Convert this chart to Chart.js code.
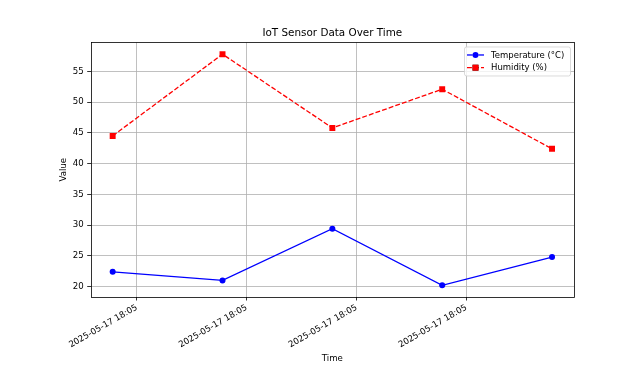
<!DOCTYPE html>
<html>
<head>
<meta charset="utf-8">
<script src="https://cdn.jsdelivr.net/npm/chart.js@4/dist/chart.umd.min.js"></script>
<style>
  html, body { margin: 0; padding: 0; background: #fff; }
  canvas { display: block; }
</style>
</head>
<body>
<canvas id="chart" width="635" height="372"></canvas>
<script>
// readings, seconds after 18:05:00
const sampleSeconds = [7.8, 17.8, 27.8, 37.8, 47.8];
const temperature = [22.4, 21.0, 29.4, 20.2, 24.8];
const humidity = [44.5, 57.8, 45.8, 52.1, 42.4];

const tickSeconds = [10, 20, 30, 40];
const tickLabels = ["2025-05-17 18:05", "2025-05-17 18:05", "2025-05-17 18:05", "2025-05-17 18:05"];
const yTicks = [20, 25, 30, 35, 40, 45, 50, 55];

const FONT = "'DejaVu Sans', sans-serif";

function toPoints(values) {
    return values.map((v, i) => ({ x: sampleSeconds[i], y: v }));
}

// box around the plot (all four spines)
const spinePlugin = {
    id: 'spines',
    afterDatasetsDraw(chart) {
        const a = chart.chartArea;
        const ctx = chart.ctx;
        ctx.save();
        ctx.strokeStyle = '#000';
        ctx.lineWidth = 0.8;
        ctx.strokeRect(Math.round(a.left) + 0.5, Math.round(a.top) + 0.5,
                       Math.round(a.right - a.left), Math.round(a.bottom - a.top));
        ctx.restore();
    }
};

// matplotlib-like legend: line + marker handles
const lineLegendPlugin = {
    id: 'lineLegend',
    afterDraw(chart) {
        const ctx = chart.ctx;
        const a = chart.chartArea;
        const boxW = 106, boxH = 29;
        const x0 = a.right - 4 - boxW, y0 = a.top + 4;
        ctx.save();
        ctx.fillStyle = 'rgba(255,255,255,0.8)';
        ctx.strokeStyle = '#d0d0d0';
        ctx.lineWidth = 0.8;
        ctx.beginPath();
        ctx.roundRect(x0 + 0.5, y0 + 0.5, boxW, boxH, 2);
        ctx.fill();
        ctx.stroke();

        ctx.font = '8.5px ' + FONT;
        ctx.textBaseline = 'middle';
        ctx.textAlign = 'left';
        chart.data.datasets.forEach((ds, i) => {
            const y = y0 + 8.5 + i * 12.7;
            const hx0 = x0 + 3, hx1 = x0 + 20;
            ctx.strokeStyle = ds.borderColor;
            ctx.lineWidth = ds.borderWidth;
            ctx.setLineDash(ds.borderDash || []);
            ctx.beginPath();
            ctx.moveTo(hx0, y);
            ctx.lineTo(hx1, y);
            ctx.stroke();
            ctx.setLineDash([]);
            Chart.helpers.drawPoint(ctx, {
                pointStyle: ds.pointStyle,
                radius: ds.pointRadius,
                borderWidth: 0
            }, (hx0 + hx1) / 2, y);
            ctx.fillStyle = ds.pointBackgroundColor;
            ctx.fill();
            ctx.fillStyle = '#000';
            ctx.fillText(ds.label, x0 + 27, y + 0.5);
        });
        ctx.restore();
    }
};

new Chart(document.getElementById('chart'), {
    type: 'line',
    data: {
        datasets: [
            {
                label: 'Temperature (°C)',
                data: toPoints(temperature),
                borderColor: '#0000ff',
                backgroundColor: '#0000ff',
                pointBackgroundColor: '#0000ff',
                pointBorderWidth: 0,
                pointStyle: 'circle',
                pointRadius: 3,
                borderWidth: 1.3,
                tension: 0
            },
            {
                label: 'Humidity (%)',
                data: toPoints(humidity),
                borderColor: '#ff0000',
                backgroundColor: '#ff0000',
                pointBackgroundColor: '#ff0000',
                pointBorderWidth: 0,
                pointStyle: 'rect',
                pointRadius: 4.2,
                borderWidth: 1.3,
                borderDash: [4.9, 2.1],
                tension: 0
            }
        ]
    },
    options: {
        responsive: false,
        animation: false,
        devicePixelRatio: 1,
        layout: { padding: { left: 0, right: 61, top: 0, bottom: 0 } },
        plugins: {
            legend: { display: false },
            tooltip: { enabled: false },
            title: {
                display: true,
                fullSize: false,
                text: 'IoT Sensor Data Over Time',
                color: '#000',
                font: { family: FONT, size: 10.4, weight: 'normal' },
                padding: { top: 27.5, bottom: 2.5 }
            }
        },
        scales: {
            x: {
                type: 'linear',
                min: 5.8,
                max: 49.8,
                afterBuildTicks: scale => { scale.ticks = tickSeconds.map(v => ({ value: v })); },
                afterFit: scale => { scale.height = 75; },
                border: { display: false },
                grid: { color: '#b0b0b0', lineWidth: 0.8, tickColor: '#000', tickLength: 3.5, tickWidth: 0.8 },
                ticks: {
                    color: '#000',
                    font: { family: FONT, size: 8.6 },
                    minRotation: 30,
                    maxRotation: 30,
                    padding: 2,
                    autoSkip: false,
                    callback: (v, i) => tickLabels[i]
                },
                title: {
                    display: true,
                    text: 'Time',
                    color: '#000',
                    font: { family: FONT, size: 8.6 },
                    padding: { top: 0, bottom: 8.5 }
                }
            },
            y: {
                min: 18.3,
                max: 59.7,
                afterBuildTicks: scale => { scale.ticks = yTicks.map(v => ({ value: v })); },
                afterFit: scale => { scale.width = 90.7; },
                border: { display: false },
                grid: { color: '#b0b0b0', lineWidth: 0.8, tickColor: '#000', tickLength: 3.5, tickWidth: 0.8 },
                ticks: {
                    color: '#000',
                    font: { family: FONT, size: 8.6 },
                    padding: 3.5
                },
                title: {
                    display: true,
                    text: 'Value',
                    color: '#000',
                    font: { family: FONT, size: 8.6 },
                    padding: { top: 59, bottom: 0 }
                }
            }
        }
    },
    plugins: [spinePlugin, lineLegendPlugin]
});
</script>
</body>
</html>
